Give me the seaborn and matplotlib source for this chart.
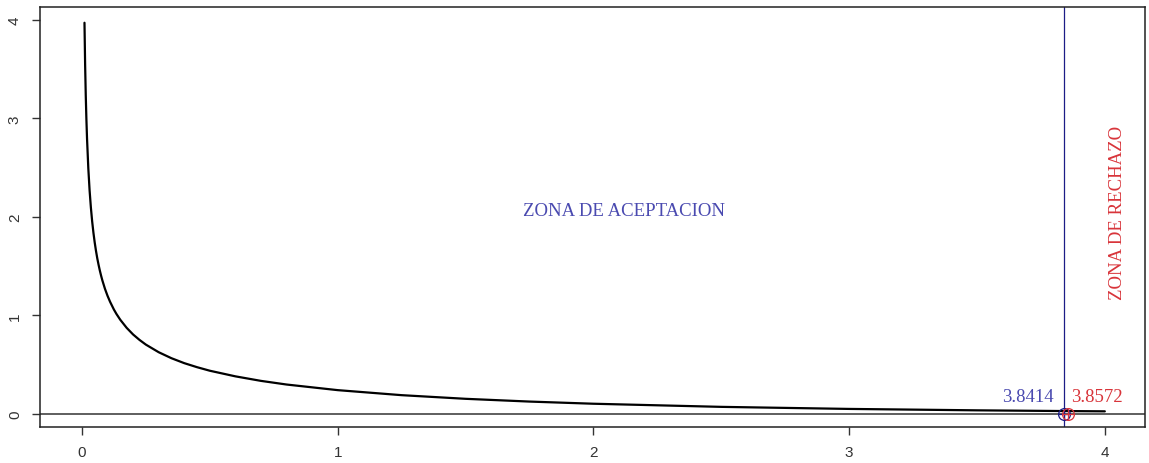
import matplotlib
matplotlib.use("Agg")
import matplotlib.pyplot as plt
import seaborn as sns
import pandas as pd

# Chi-square density (1 d.f.) read at selected points
x_vals = [0.01, 0.0125, 0.015, 0.0175, 0.02, 0.025, 0.03, 0.035, 0.04, 0.045,
          0.05, 0.055, 0.06, 0.065, 0.07, 0.075, 0.08, 0.09, 0.1, 0.11, 0.125,
          0.135, 0.15, 0.175, 0.2, 0.225, 0.25, 0.3, 0.35, 0.4, 0.45, 0.5, 0.6,
          0.7, 0.8, 1.0, 1.25, 1.5, 1.75, 2.0, 2.5, 3.0, 3.5, 3.8414, 4.0]
y_vals = [3.970, 3.546, 3.233, 2.989, 2.793, 2.492, 2.269, 2.096, 1.955, 1.839,
          1.740, 1.655, 1.580, 1.515, 1.456, 1.403, 1.355, 1.271, 1.200, 1.139, 1.060,
          1.015, 0.956, 0.874, 0.807, 0.752, 0.704, 0.627, 0.566, 0.516, 0.475, 0.439, 0.382,
          0.336, 0.299, 0.242, 0.191, 0.154, 0.126, 0.104, 0.0723, 0.0514, 0.0371, 0.0298, 0.0270]

critical_value = 3.8414
statistic = 3.8572
x_ticks = [0, 1, 2, 3, 4]
y_ticks = [0, 1, 2, 3, 4]

blue = "#4a4ab0"
red = "#d8343a"
navy = "#1c1c86"

sns.set_theme(style="white")
plt.rcParams["font.family"] = ["Liberation Sans", "DejaVu Sans"]

fig = plt.figure(figsize=(11.49, 4.64), dpi=100)
ax = fig.add_axes([0.0348, 0.0776, 0.9617, 0.9052])

df = pd.DataFrame({"x": x_vals, "y": y_vals})
sns.lineplot(data=df, x="x", y="y", ax=ax, color="black", linewidth=1.6,
             sort=True, estimator=None)

ax.axhline(0, color="#333333", linewidth=1.1, zorder=1)
ax.axvline(critical_value, color=navy, linewidth=0.9, zorder=1)

# circle-plus markers at the critical value and the statistic
for xv, col in [(critical_value, navy), (statistic, red)]:
    ax.plot([xv], [0], marker="o", markersize=8.5, markerfacecolor="none",
            markeredgecolor=col, markeredgewidth=0.9, linestyle="none", zorder=4)
    ax.plot([xv], [0], marker="+", markersize=8.5, color=col,
            markeredgewidth=0.9, linestyle="none", zorder=4)

serif = ["Liberation Serif", "DejaVu Serif"]
ax.text(2.12, 2.06, "ZONA DE ACEPTACION", color=blue, fontsize=13.5,
        family=serif, ha="center", va="center")
ax.text(4.05, 2.05, "ZONA DE RECHAZO", color=red, fontsize=13.5,
        family=serif, ha="center", va="center", rotation=90)
ax.text(3.70, 0.18, f"{critical_value}", color=blue, fontsize=13.5,
        family=serif, ha="center", va="center")
ax.text(3.97, 0.18, f"{statistic}", color=red, fontsize=13.5,
        family=serif, ha="center", va="center")

ax.set_xlim(-0.164, 4.157)
ax.set_ylim(-0.132, 4.13)
ax.set_xticks(x_ticks)
ax.set_yticks(y_ticks)
ax.set_xticklabels([str(v) for v in x_ticks])
ax.set_yticklabels([str(v) for v in y_ticks], rotation=90, va="center")
ax.set_xlabel("")
ax.set_ylabel("")
ax.tick_params(axis="both", direction="out", length=6, width=1,
               color="#333333", labelsize=11, labelcolor="#333333", pad=7,
               bottom=True, left=True)
for sp in ax.spines.values():
    sp.set_color("#222222")
    sp.set_linewidth(1.1)

fig.savefig("out.png", dpi=100, facecolor="white")
